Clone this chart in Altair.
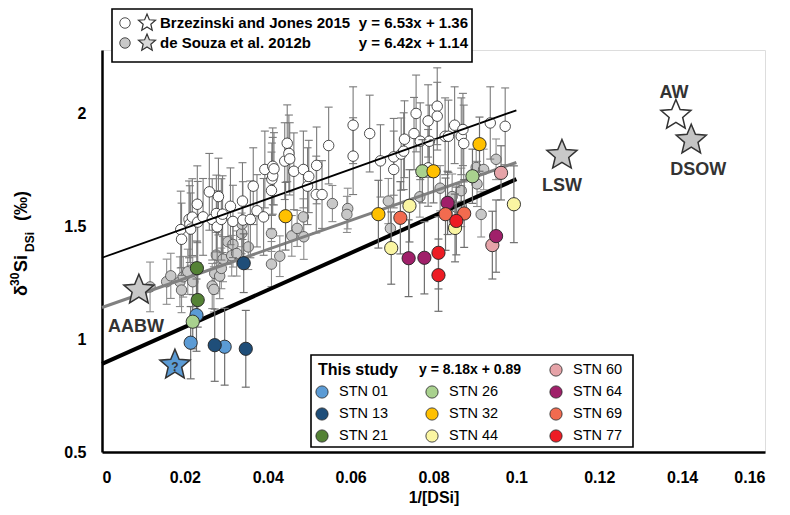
import altair as alt
import pandas as pd

FONT = "Liberation Sans"

# ---------------- data ----------------
# Brzezinski and Jones 2015 (white circles)
bj_x = [0.0190, 0.0192, 0.0210, 0.0212, 0.0214, 0.0218, 0.0230, 0.0231, 0.0244, 0.0259,
        0.0266, 0.0276, 0.0278, 0.0281, 0.0288, 0.0291, 0.0310, 0.0316, 0.0339, 0.0340,
        0.0358, 0.0365, 0.0374, 0.0390, 0.0393, 0.0409, 0.0410, 0.0412, 0.0412, 0.0415,
        0.0441, 0.0447, 0.0451, 0.0453, 0.0463, 0.0486, 0.0496, 0.0499, 0.0517, 0.0518,
        0.0531, 0.0547, 0.0606, 0.0606, 0.0646, 0.0672, 0.0704, 0.0704, 0.0722, 0.0728,
        0.0730, 0.0753, 0.0758, 0.0768, 0.0787, 0.0787, 0.0790, 0.0809, 0.0809, 0.0828,
        0.0836, 0.0851, 0.0867, 0.0871, 0.0873, 0.0937, 0.0973]
bj_y = [1.485, 1.442, 1.530, 1.509, 1.487, 1.540, 1.597, 1.518, 1.541, 1.652,
        1.530, 1.556, 1.497, 1.631, 1.530, 1.553, 1.588, 1.521, 1.611, 1.527,
        1.530, 1.677, 1.568, 1.541, 1.751, 1.658, 1.708, 1.723, 1.765, 1.754,
        1.788, 1.867, 1.822, 1.798, 1.743, 1.751, 1.677, 1.720, 1.640, 1.769,
        1.640, 1.857, 1.947, 1.810, 1.910, 1.789, 1.807, 1.751, 1.819, 1.832,
        1.885, 1.910, 1.999, 1.876, 1.966, 1.758, 1.876, 2.031, 1.987, 1.898,
        1.898, 1.947, 1.898, 1.928, 1.866, 1.957, 1.942]
bj_err = [0.17, 0.16, 0.17, 0.17, 0.16, 0.17, 0.17, 0.18, 0.17, 0.17,
          0.18, 0.17, 0.16, 0.17, 0.18, 0.17, 0.17, 0.16, 0.17, 0.17,
          0.17, 0.17, 0.16, 0.17, 0.17, 0.17, 0.16, 0.17, 0.17, 0.16,
          0.17, 0.17, 0.17, 0.16, 0.17, 0.17, 0.17, 0.16, 0.17, 0.17,
          0.15, 0.17, 0.17, 0.17, 0.17, 0.16, 0.17, 0.17, 0.16, 0.17,
          0.17, 0.16, 0.17, 0.17, 0.16, 0.17, 0.16, 0.17, 0.15, 0.17,
          0.16, 0.17, 0.17, 0.16, 0.17, 0.16, 0.17]

# de Souza et al. 2012b (grey circles)
ds_x = [0.0116, 0.0156, 0.0166, 0.0188, 0.0192, 0.0196, 0.0207, 0.0219, 0.0266, 0.0270,
        0.0272, 0.0284, 0.0276, 0.0288, 0.0292, 0.0304, 0.0313, 0.0316, 0.0325, 0.0337,
        0.0338, 0.0353, 0.0409, 0.0409, 0.0429, 0.0458, 0.0471, 0.0486, 0.0487, 0.0556,
        0.0593, 0.0591, 0.0691, 0.0696, 0.0767, 0.0816, 0.0845, 0.0867, 0.0867, 0.0903,
        0.0921, 0.0905, 0.0951, 0.0915, 0.0855]
ds_y = [1.231, 1.254, 1.280, 1.254, 1.217, 1.276, 1.298, 1.254, 1.235, 1.220,
        1.291, 1.279, 1.372, 1.313, 1.354, 1.431, 1.369, 1.419, 1.379, 1.468,
        1.509, 1.408, 1.468, 1.332, 1.367, 1.457, 1.490, 1.541, 1.453, 1.600,
        1.578, 1.552, 1.611, 1.490, 1.630, 1.668, 1.631, 1.657, 1.588, 1.760,
        1.751, 1.687, 1.796, 1.552, 1.584]
ds_err = [0.11, 0.10, 0.10, 0.11, 0.10, 0.09, 0.10, 0.11, 0.10, 0.10,
          0.09, 0.10, 0.10, 0.09, 0.10, 0.10, 0.09, 0.10, 0.10, 0.09,
          0.10, 0.10, 0.08, 0.10, 0.09, 0.09, 0.08, 0.08, 0.10, 0.08,
          0.09, 0.08, 0.10, 0.10, 0.09, 0.10, 0.10, 0.10, 0.09, 0.08,
          0.09, 0.10, 0.09, 0.10, 0.10]

# This study
stn_names = ["STN 01", "STN 13", "STN 21", "STN 26", "STN 32", "STN 44",
             "STN 60", "STN 64", "STN 69", "STN 77"]
stn_colors = ["#5b9bd5", "#1f4e79", "#548235", "#a9d18e", "#ffc000", "#faf5a2",
              "#e6a3a8", "#a0206a", "#f26b4f", "#ed1c24"]
st_station = ["STN 01", "STN 01", "STN 01", "STN 13", "STN 13", "STN 13", "STN 21", "STN 21",
              "STN 26", "STN 26", "STN 26", "STN 32", "STN 32", "STN 32", "STN 32",
              "STN 44", "STN 44", "STN 44", "STN 44", "STN 60", "STN 60",
              "STN 64", "STN 64", "STN 64", "STN 64", "STN 69", "STN 69", "STN 69",
              "STN 77", "STN 77", "STN 77"]
st_x = [0.0228, 0.0214, 0.0296, 0.0272, 0.0347, 0.0342, 0.0229, 0.0231,
        0.0219, 0.0773, 0.0894, 0.0443, 0.0667, 0.0800, 0.0911,
        0.0698, 0.0742, 0.0852, 0.0994, 0.0963, 0.0942,
        0.0740, 0.0778, 0.0834, 0.0951, 0.0720, 0.0829, 0.0874,
        0.0812, 0.0812, 0.0855]
st_y = [1.106, 0.984, 0.966, 0.973, 0.957, 1.336, 1.314, 1.173,
        1.077, 1.743, 1.721, 1.544, 1.553, 1.743, 1.863,
        1.403, 1.590, 1.492, 1.597, 1.736, 1.416,
        1.358, 1.360, 1.603, 1.456, 1.537, 1.553, 1.556,
        1.382, 1.283, 1.523]
st_err = [0.16, 0.16, 0.17, 0.16, 0.17, 0.13, 0.12, 0.12,
          0.12, 0.14, 0.12, 0.15, 0.15, 0.14, 0.12,
          0.16, 0.16, 0.15, 0.17, 0.12, 0.15,
          0.17, 0.16, 0.14, 0.16, 0.16, 0.16, 0.15,
          0.16, 0.16, 0.15]

# water-mass end-members (stars)
wm_label = ["AABW", "?", "LSW", "AW", "DSOW"]
wm_x = [0.0089, 0.0176, 0.1110, 0.1385, 0.1422]
wm_y = [1.217, 0.885, 1.814, 1.991, 1.881]
wm_colors = ["#c8c8c8", "#5b9bd5", "#c8c8c8", "#ffffff", "#c4c4c4"]

# regression lines
fit_names = ["Brzezinski and Jones 2015", "de Souza et al. 2012b", "This study"]
fit_slope = [6.53, 6.42, 8.18]
fit_int = [1.36, 1.14, 0.89]
fit_x0 = [0.0, 0.0, 0.0]
fit_x1 = [0.1, 0.1, 0.1]

x_ticks = [0, 0.02, 0.04, 0.06, 0.08, 0.1, 0.12, 0.14, 0.16]
y_ticks = [0.5, 1, 1.5, 2]

# ---------------- chart ----------------
W, H = 663, 402
xs = alt.Scale(domain=[0, 0.16], nice=False, zero=False)
ys = alt.Scale(domain=[0.5, 2.28], nice=False, zero=False)
xaxis = alt.Axis(values=x_ticks, format="~g", ticks=False, grid=False,
                 domainWidth=2.5, domainColor="black", labelFontSize=16,
                 labelFontWeight="bold", labelColor="black", labelPadding=17,
                 labelFont=FONT, title="1/[DSi]", titleFont=FONT, titleFontSize=16,
                 titleFontWeight="bold", titleColor="black", titlePadding=4)
yaxis = alt.Axis(values=y_ticks, format="~g", ticks=False, grid=False,
                 domainWidth=2.5, domainColor="black", labelFontSize=16,
                 labelFontWeight="bold", labelColor="black", labelPadding=16,
                 labelFont=FONT, title=None)


def X(f):
    return alt.X(f, type="quantitative", scale=xs, axis=xaxis)


def Y(f):
    return alt.Y(f, type="quantitative", scale=ys, axis=yaxis)


def frame(xv, yv, err, extra=None):
    d = pd.DataFrame({"x": xv, "y": yv, "err": err})
    if extra is not None:
        for k, v in extra.items():
            d[k] = v
    d["lo"] = d["y"] - d["err"]
    d["hi"] = d["y"] + d["err"]
    return d


bj = frame(bj_x, bj_y, bj_err)
ds = frame(ds_x, ds_y, ds_err)
st = frame(st_x, st_y, st_err, {"station": st_station})
wm = pd.DataFrame({"label": wm_label, "x": wm_x, "y": wm_y})
fits = pd.DataFrame({"name": fit_names, "m": fit_slope, "b": fit_int,
                     "x0": fit_x0, "x1": fit_x1})
fits["y0"] = fits["m"] * fits["x0"] + fits["b"]
fits["y1"] = fits["m"] * fits["x1"] + fits["b"]


def errbars(df, color, width=1.1):
    base = alt.Chart(df)
    rule = base.mark_rule(color=color, strokeWidth=width).encode(x=X("x"), y=Y("lo"), y2="hi")
    lo = base.mark_tick(color=color, thickness=width, size=8, orient="horizontal",
                        opacity=1).encode(x=X("x"), y=Y("lo"))
    hi = base.mark_tick(color=color, thickness=width, size=8, orient="horizontal",
                        opacity=1).encode(x=X("x"), y=Y("hi"))
    return [rule, lo, hi]


def circles(df, fill, stroke, size, sw=0.8):
    return alt.Chart(df).mark_point(shape="circle", filled=True, fill=fill, stroke=stroke,
                                    strokeWidth=sw, size=size, opacity=1).encode(x=X("x"), y=Y("y"))


STAR = ("M0,-1L0.2645,-0.3641L0.9511,-0.309L0.428,0.1391L0.5878,0.809L0,0.45"
        "L-0.5878,0.809L-0.428,0.1391L-0.9511,-0.309L-0.2645,-0.3641Z")

one = pd.DataFrame({"a": [0]})


def txt(s, x, y, size=15, weight="bold", align="left", angle=0, color="black", baseline="middle"):
    return alt.Chart(one).mark_text(text=s, font=FONT, fontSize=size, fontWeight=weight,
                                    align=align, baseline=baseline, angle=angle,
                                    color=color).encode(x=alt.value(x), y=alt.value(y))


def sym(x, y, fill, size, shape="circle", stroke="#222", sw=0.8):
    return alt.Chart(one).mark_point(shape=shape, filled=True, fill=fill, stroke=stroke,
                                     strokeWidth=sw, size=size, opacity=1).encode(
        x=alt.value(x), y=alt.value(y))


def box(x1, x2, y1, y2):
    return alt.Chart(one).mark_rect(fill="white", stroke="black", strokeWidth=1.6).encode(
        x=alt.value(x1), x2=alt.value(x2), y=alt.value(y1), y2=alt.value(y2))


layers = []
layers += errbars(ds, "#8c8c8c")
layers.append(circles(ds, "#c8c8c8", "#444444", 110))
layers += errbars(bj, "#7a7a7a")
layers.append(circles(bj, "#ffffff", "#222222", 110))

line_style = {"Brzezinski and Jones 2015": ("black", 1.8),
              "de Souza et al. 2012b": ("#808080", 3.0),
              "This study": ("black", 4.0)}
for nm in fit_names:
    c, w = line_style[nm]
    layers.append(alt.Chart(fits).transform_filter(alt.datum.name == nm).mark_rule(
        color=c, strokeWidth=w).encode(x=X("x0"), x2="x1", y=Y("y0"), y2="y1"))

layers += errbars(st, "#6f6f6f", 1.2)
layers.append(alt.Chart(st).mark_point(shape="circle", filled=True, stroke="#222222",
                                       strokeWidth=0.9, size=175, opacity=1).encode(
    x=X("x"), y=Y("y"),
    fill=alt.Fill("station:N", scale=alt.Scale(domain=stn_names, range=stn_colors), legend=None)))

# stars (one layer per end-member so their fills stay fixed)
for lb, col in zip(wm_label, wm_colors):
    layers.append(alt.Chart(wm).transform_filter(alt.datum.label == lb).mark_point(
        shape=STAR, filled=True, fill=col, stroke="#333333", strokeWidth=1.5,
        size=1000, opacity=1).encode(x=X("x"), y=Y("y")))
label_off = {"AABW": (-3, 37, 18), "LSW": (0, 31, 18), "AW": (-2, -22, 18),
             "DSOW": (7, 30, 18), "?": (0, 2, 12)}
for lb, (dx, dy, fs) in label_off.items():
    layers.append(alt.Chart(wm).transform_filter(alt.datum.label == lb).mark_text(
        font=FONT, fontSize=fs, fontWeight="bold", color="#333333", dx=dx, dy=dy,
        align="center", baseline="middle").encode(x=X("x"), y=Y("y"), text="label:N"))

# y title with super/subscripts
layers.append(txt("δ", -80, 246, size=18, angle=270))
layers.append(txt("30", -87, 236, size=12, angle=270))
layers.append(txt("Si", -80, 222, size=18, angle=270))
layers.append(txt("DSi", -72, 202, size=12, angle=270))
layers.append(txt("(‰)", -80, 171, size=18, angle=270))

# legend 1
eqs = [f"y = {m:.2f}x + {b:.2f}" for m, b in zip(fit_slope, fit_int)]
layers.append(box(10, 370, -41, 12))
leg1_fill = ["#ffffff", "#c8c8c8"]
leg1_star = ["#ffffff", "#d9d9d9"]
for i, ry in enumerate([-27, -7]):
    layers.append(sym(23, ry, leg1_fill[i], 110))
    layers.append(sym(45, ry, leg1_star[i], 320, shape=STAR, stroke="#333333", sw=1.2))
    layers.append(txt(fit_names[i], 58, ry, size=15))
    layers.append(txt(eqs[i], 366, ry, size=15, align="right"))

# legend 2
layers.append(box(209, 531, 305, 397))
layers.append(txt("This study", 216, 320, size=16))
layers.append(txt(eqs[2], 317, 320, size=14))
col_x = [220, 330, 454]
row_y = [320, 342, 364, 386]
for i, nm in enumerate(stn_names):
    if i < 6:
        col, row = i // 3, i % 3 + 1
    else:
        col, row = 2, i - 6
    layers.append(sym(col_x[col], row_y[row], stn_colors[i], 150))
    layers.append(txt(nm, col_x[col] + 17, row_y[row], size=14.5, weight="normal"))

chart = alt.layer(*layers).properties(
    width=W, height=H,
    padding={"left": 94, "top": 42, "right": 15, "bottom": 54},
    autosize=alt.AutoSizeParams(type="none"),
).configure_view(stroke=None).configure(font=FONT, background="white")

chart.save("out.html", embed_options={"renderer": "svg", "actions": False})
